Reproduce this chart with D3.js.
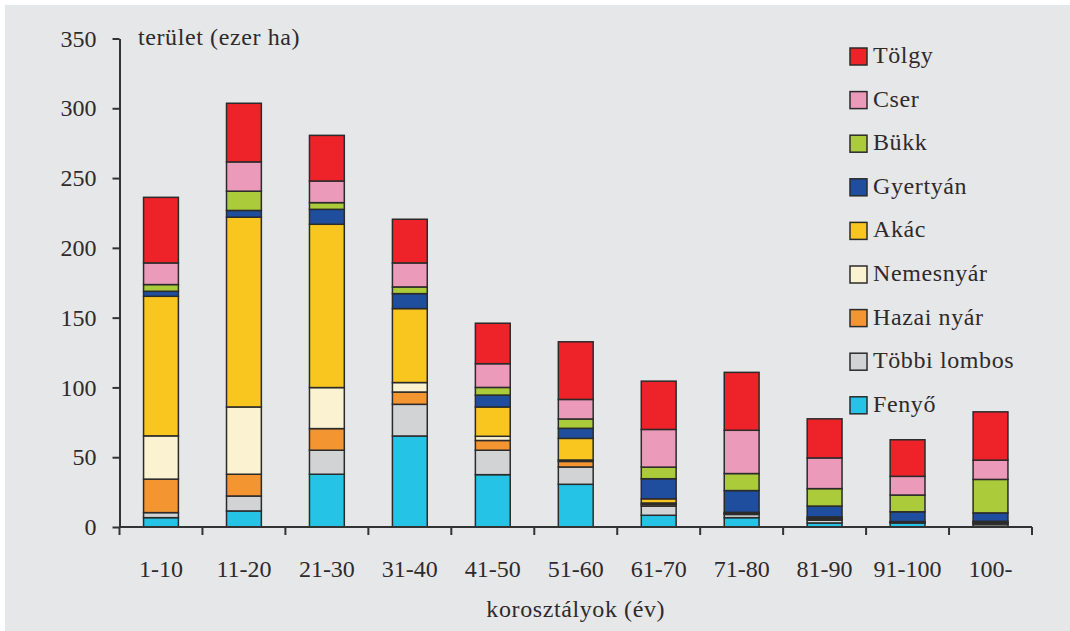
<!DOCTYPE html>
<html>
<head>
<meta charset="utf-8">
<script src="https://cdn.jsdelivr.net/npm/d3@7/dist/d3.min.js"></script>
<style>
  html, body { margin: 0; padding: 0; background: #ffffff; }
  svg text { font-family: "Liberation Serif", "DejaVu Serif", serif; fill: #2f2a2c; }
  svg text.wide { letter-spacing: 0.6px; }
</style>
</head>
<body>
<svg id="chart" width="1070" height="631"></svg>
<script>
// Age classes (years)
const categories = ["1-10", "11-20", "21-30", "31-40", "41-50", "51-60", "61-70", "71-80", "81-90", "91-100", "100-"];

// Species, bottom of the stack first
const species = ["Fenyő", "Többi lombos", "Hazai nyár", "Nemesnyár", "Akác", "Gyertyán", "Bükk", "Cser", "Tölgy"];

// Area per age class, thousand ha
const fenyo       = [6.7, 11.5, 37.8, 65.2, 37.5, 30.6, 8.4, 6.7, 2.9, 2.9, 0.6];
const tobbiLombos = [3.6, 10.7, 17.2, 22.7, 17.5, 12.4, 6.6, 2.3, 2.0, 0.4, 1.5];
const hazaiNyar   = [24.0, 15.6, 15.5, 8.8, 7.0, 4.0, 1.2, 0.5, 0.8, 0.2, 0.7];
const nemesnyar   = [31.0, 48.2, 29.4, 6.8, 3.0, 1.0, 1.0, 0.5, 0.5, 0.1, 0.5];
const akac        = [100.0, 136.0, 117.0, 53.0, 21.0, 15.5, 3.0, 0.5, 1.0, 0.3, 0.8];
const gyertyan    = [3.6, 4.8, 10.7, 10.7, 8.5, 7.2, 14.4, 15.6, 7.8, 7.0, 6.0];
const bukk        = [4.8, 13.8, 4.8, 4.8, 5.5, 6.7, 8.3, 12.2, 12.5, 12.0, 24.0];
const cser        = [15.5, 21.0, 15.5, 17.2, 17.0, 14.0, 27.0, 31.0, 22.0, 13.4, 13.8];
const tolgy       = [47.0, 42.0, 32.7, 31.3, 29.0, 41.3, 34.6, 41.5, 28.0, 26.2, 34.6];

const yTicks = [0, 50, 100, 150, 200, 250, 300, 350];

const colors = {
  "Fenyő": "#25c3e6",
  "Többi lombos": "#d2d3d5",
  "Hazai nyár": "#f39530",
  "Nemesnyár": "#faf2d0",
  "Akác": "#f8c61f",
  "Gyertyán": "#1f4e9f",
  "Bükk": "#abcb3a",
  "Cser": "#eb9bb9",
  "Tölgy": "#ee2229"
};

const seriesValues = [fenyo, tobbiLombos, hazaiNyar, nemesnyar, akac, gyertyan, bukk, cser, tolgy];

// Build rows for d3.stack
const rows = categories.map((c, i) => {
  const r = { cat: c };
  species.forEach((s, k) => { r[s] = seriesValues[k][i]; });
  return r;
});
const stacked = d3.stack().keys(species)(rows);

const svg = d3.select("#chart");

// Grey panel with a thin white margin at top and left
svg.append("rect").attr("x", 5).attr("y", 5).attr("width", 1065).attr("height", 626).attr("fill", "#e6e7e8");

const x0 = 119.5, x1 = 1032, yBase = 527, yTop = 38.5;

const x = d3.scaleBand().domain(categories).range([x0, x1]).paddingInner(0.58).paddingOuter(0.29);
const y = d3.scaleLinear().domain([0, 350]).range([yBase, yTop]);

// Stacked bars
svg.append("g").selectAll("g")
  .data(stacked)
  .join("g")
  .attr("fill", d => colors[d.key])
  .selectAll("rect")
  .data(d => d)
  .join("rect")
  .attr("x", d => x(d.data.cat))
  .attr("width", x.bandwidth())
  .attr("y", d => y(d[1]))
  .attr("height", d => y(d[0]) - y(d[1]))
  .attr("stroke", "#2b2b2b")
  .attr("stroke-width", 1.5);

// Y axis
const yAxis = svg.append("g").attr("transform", `translate(${x0},0)`)
  .call(d3.axisLeft(y).tickValues(yTicks).tickSize(7).tickPadding(16).tickSizeOuter(0));
yAxis.select(".domain").attr("stroke", "#333").attr("stroke-width", 2);
yAxis.selectAll(".tick line").attr("stroke", "#333").attr("stroke-width", 2);
yAxis.selectAll(".tick text").attr("font-size", 24).attr("font-family", "Liberation Serif").attr("fill", "#2f2a2c");

// X axis: ticks at the category boundaries
const bounds = categories.map(c => x(c) - x.step() * x.paddingInner() / 2).concat([x1]);
const xAxisG = svg.append("g");
xAxisG.append("line").attr("x1", x0).attr("x2", x1).attr("y1", yBase).attr("y2", yBase)
  .attr("stroke", "#333").attr("stroke-width", 2);
xAxisG.selectAll("line.tk").data(bounds).join("line").attr("class", "tk")
  .attr("x1", d => d).attr("x2", d => d).attr("y1", yBase).attr("y2", yBase + 8)
  .attr("stroke", "#333").attr("stroke-width", 2);
xAxisG.selectAll("text").data(categories).join("text")
  .attr("x", d => x(d) + x.bandwidth() / 2)
  .attr("y", 577)
  .attr("text-anchor", "middle")
  .attr("font-size", 24)
  .text(d => d);

// Axis titles
svg.append("text").attr("class", "wide").attr("x", 138).attr("y", 45).attr("font-size", 24).text("terület (ezer ha)");
svg.append("text").attr("class", "wide").attr("x", (x0 + x1) / 2).attr("y", 617).attr("text-anchor", "middle")
  .attr("font-size", 24).text("korosztályok (év)");

// Legend, top of the stack first
const legendOrder = species.slice().reverse();
const lg = svg.append("g").selectAll("g").data(legendOrder).join("g")
  .attr("transform", (d, i) => `translate(850,${48 + i * 43.6})`);
lg.append("rect").attr("width", 17).attr("height", 17)
  .attr("fill", d => colors[d]).attr("stroke", "#2b2b2b").attr("stroke-width", 1.5);
lg.append("text").attr("class", "wide").attr("x", 23).attr("y", 15).attr("font-size", 24).text(d => d);
</script>
</body>
</html>
